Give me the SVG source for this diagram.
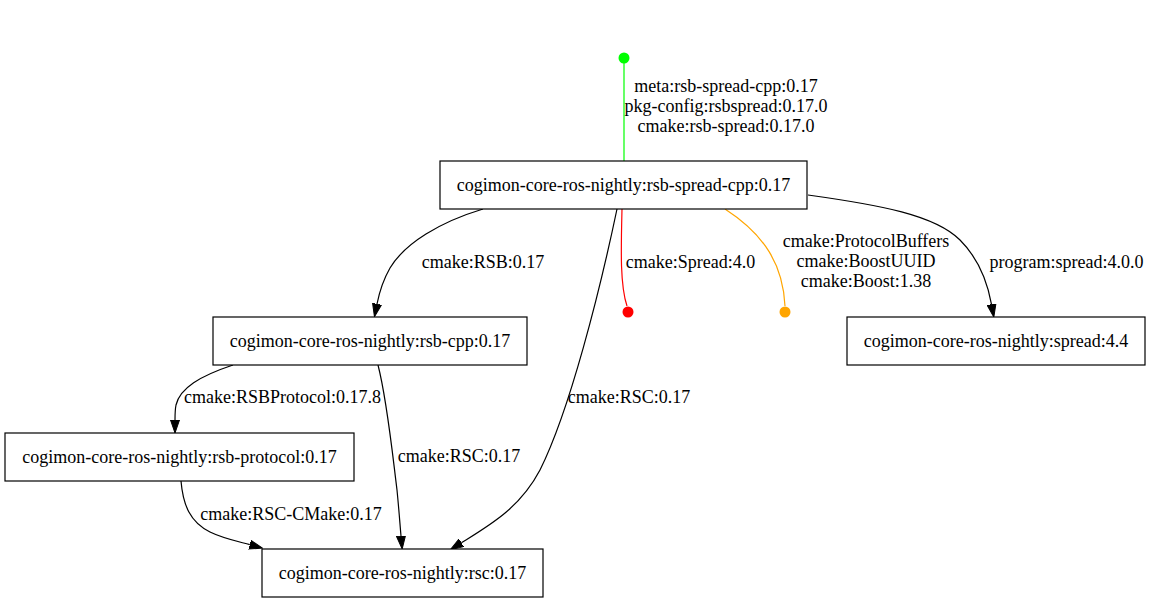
<svg xmlns="http://www.w3.org/2000/svg" width="1152" height="603" viewBox="0 0 1152 603">
<style>
text{font-family:"Liberation Serif","Times New Roman",serif;font-size:18px;fill:#000;text-anchor:middle}
.node rect{fill:#fff;stroke:#000;stroke-width:1.2}
.edge{fill:none;stroke:#000;stroke-width:1.2}
</style>
<defs>
<marker id="arr" markerUnits="userSpaceOnUse" markerWidth="14" markerHeight="10" viewBox="0 0 14 10" refX="0" refY="5" orient="auto">
<path d="M0,0.5 L13,5 L0,9.5 z" fill="#000" stroke="#000" stroke-width="1"/>
</marker>
</defs>
<rect width="1152" height="603" fill="#fff"/>
<g id="connectors">
<path class="edge" d="M624,63 L624,161" style="stroke:#00ff00"/>
<circle cx="624" cy="58" r="5.5" fill="#00ff00"/>
<path class="edge" d="M622,209 C621,250 620,285 627,306" style="stroke:#ff0000"/>
<circle cx="628" cy="312" r="5.5" fill="#ff0000"/>
<path class="edge" d="M725,209 C765,235 783,265 785,306" style="stroke:#ffa500"/>
<circle cx="785" cy="312" r="5.5" fill="#ffa500"/>
<path class="edge" marker-end="url(#arr)" d="M808,195 C880,205 935,215 960,240 C980,260 988,285 991.5,304.3"/>
<path class="edge" marker-end="url(#arr)" d="M483,209 C440,222 405,243 390,268 C382,282 379,294 377,304"/>
<path class="edge" marker-end="url(#arr)" d="M617,209 C600,290 570,410 540,470 C520,508 490,525 461.4,542.8"/>
<path class="edge" marker-end="url(#arr)" d="M233,365 C200,376 180,388 176,405 C175,410 175,415 175,420"/>
<path class="edge" marker-end="url(#arr)" d="M378,365 C387,400 392,450 397,490 C399,510 400,525 401,536"/>
<path class="edge" marker-end="url(#arr)" d="M181,481 C183,505 190,522 210,532 C222,538 236,541 249.8,544.7"/>
<text x="726" y="92">meta:rsb-spread-cpp:0.17</text>
<text x="726" y="112">pkg-config:rsbspread:0.17.0</text>
<text x="726" y="132">cmake:rsb-spread:0.17.0</text>
<text x="690.5" y="268">cmake:Spread:4.0</text>
<text x="866" y="247">cmake:ProtocolBuffers</text>
<text x="866" y="267">cmake:BoostUUID</text>
<text x="866" y="287">cmake:Boost:1.38</text>
<text x="1066.5" y="268">program:spread:4.0.0</text>
<text x="483" y="268">cmake:RSB:0.17</text>
<text x="629" y="403">cmake:RSC:0.17</text>
<text x="282.5" y="403">cmake:RSBProtocol:0.17.8</text>
<text x="459" y="462">cmake:RSC:0.17</text>
<text x="291" y="520">cmake:RSC-CMake:0.17</text>
</g>
<g id="n-rsb-spread-cpp" class="node">
<rect x="440" y="161" width="367" height="48"/>
<text x="623.5" y="190.5">cogimon-core-ros-nightly:rsb-spread-cpp:0.17</text>
</g>
<g id="n-rsb-cpp" class="node">
<rect x="213" y="317" width="314" height="48"/>
<text x="370" y="346.5">cogimon-core-ros-nightly:rsb-cpp:0.17</text>
</g>
<g id="n-rsb-protocol" class="node">
<rect x="5" y="433" width="349" height="48"/>
<text x="179.5" y="462.5">cogimon-core-ros-nightly:rsb-protocol:0.17</text>
</g>
<g id="n-rsc" class="node">
<rect x="262" y="549" width="281" height="48"/>
<text x="402.5" y="578.5">cogimon-core-ros-nightly:rsc:0.17</text>
</g>
<g id="n-spread" class="node">
<rect x="847" y="317" width="298" height="48"/>
<text x="996" y="346.5">cogimon-core-ros-nightly:spread:4.4</text>
</g>
</svg>
